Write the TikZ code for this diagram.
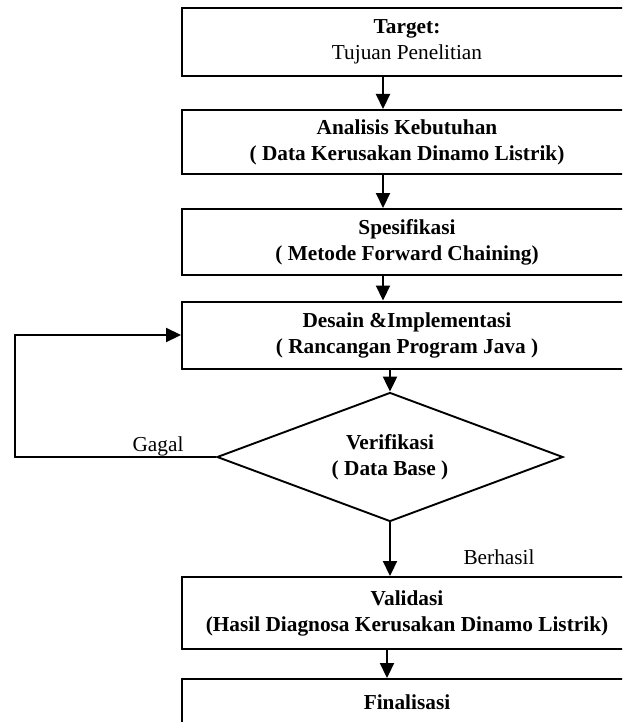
\documentclass[tikz,border=0pt]{standalone}
\usepackage{fontspec}
\setmainfont{Liberation Serif}
\usepackage{tikz}
\usetikzlibrary{shapes,arrows.meta}
\tikzset{kotak/.style={rectangle,draw,line width=2pt,minimum width=450pt,inner sep=0pt,align=center,font=\bfseries\fontsize{21.3}{26}\selectfont}}
\tikzset{belah/.style={diamond,draw,line width=1.9pt,minimum width=346pt,minimum height=129pt,aspect=2.7,inner sep=0pt,align=center,font=\bfseries\fontsize{21.3}{26}\selectfont}}
\tikzset{ket/.style={inner sep=0pt,font=\fontsize{21.3}{26}\selectfont}}

\begin{document}
\begin{tikzpicture}[>={Triangle[length=15pt,width=14pt]},x=1pt,y=-1pt,line width=2.2pt]
        \useasboundingbox (0,0) rectangle (622,722);
        \clip (0,0) rectangle (622,722);

        \node[kotak,minimum height=68pt] (a) at (407,42) {Target:\\{\mdseries Tujuan Penelitian}};
        \node[kotak,minimum height=64pt] (b) at (407,142) {Analisis Kebutuhan\\( Data Kerusakan Dinamo Listrik)};
        \node[kotak,minimum height=66pt] (c) at (407,242) {Spesifikasi\\( Metode Forward Chaining)};
        \node[kotak,minimum height=67pt] (d) at (407,335) {Desain \&Implementasi\\( Rancangan Program Java )};
        \node[belah] (e) at (390,457) {Verifikasi\\( Data Base )};
        \node[kotak,minimum height=72pt] (f) at (407,613) {Validasi\\(Hasil Diagnosa Kerusakan Dinamo Listrik)};
        \node[kotak,minimum height=72pt] (g) at (407,715) {Finalisasi\\\mbox{}};
        \node[ket] (h) at (158,446) {Gagal};
        \node[ket] (i) at (499,557) {Berhasil};
        \coordinate (j) at (15,457);

        \draw [->] ([xshift=-24pt]a.south) to [] ([xshift=-24pt]b.north);
        \draw [->] ([xshift=-24pt]b.south) to [] ([xshift=-24pt]c.north);
        \draw [->] ([xshift=-24pt]c.south) to [] ([xshift=-24pt]d.north);
        \draw [->] (e.north |- d.south) to [] (e.north);
        \draw [->] (e.south) to [] (e.south |- f.north);
        \draw [->] ([xshift=-20pt]f.south) to [] ([xshift=-20pt]g.north);
        \draw [->] (e.west) -- (j) |- (d.west);
    \end{tikzpicture}
\end{document}
